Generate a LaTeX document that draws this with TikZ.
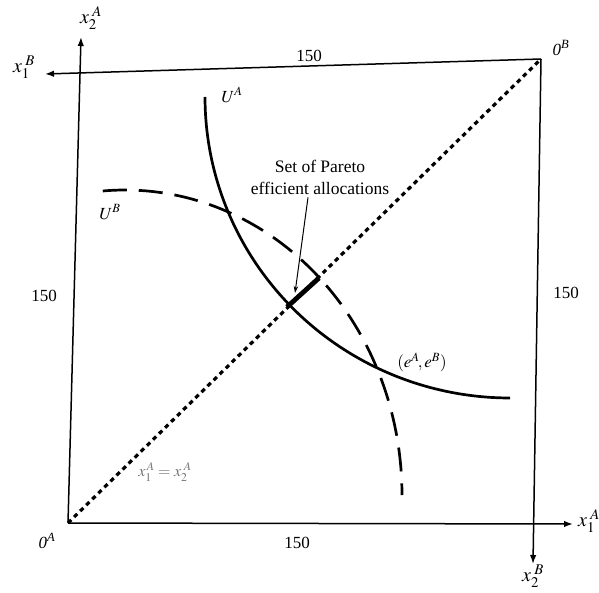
\documentclass[tikz,border=0pt]{standalone}
\usepackage{mathptmx}
\usepackage{fontspec}
\setmainfont{Liberation Serif}
\usetikzlibrary{arrows.meta}
\tikzset{
  axisline/.style={line width=1.5pt, -{Latex[length=9pt,width=6.5pt]}},
  lbl/.style={inner sep=0pt, font=\fontsize{17}{20}\selectfont},
  axlbl/.style={inner sep=0pt, font=\fontsize{20}{22}\selectfont},
  diagline/.style={line width=3.2pt, dash pattern=on 4.5pt off 4pt},
  ucurveA/.style={line width=2.7pt},
  ucurveB/.style={line width=2.7pt, dash pattern=on 24pt off 12pt},
  paretoseg/.style={line width=4.8pt},
  callout/.style={line width=1pt, -{Stealth[length=7pt,width=4.5pt]}}
}
\begin{document}
\begin{tikzpicture}[x=1pt,y=-1pt]
\useasboundingbox (0,0) rectangle (599,593);
% corners and axis ends
\coordinate (OA) at (68,523);
\coordinate (OB) at (541,59);
\coordinate (x2Aend) at (81,37);
\coordinate (x1Bend) at (45,74);
\coordinate (x1Aend) at (573,524);
\coordinate (x2Bend) at (533,564);
% box / axes
\draw[axisline] (OA) -- (x2Aend);
\draw[axisline] (OA) -- (x1Aend);
\draw[axisline] (OB) -- (x1Bend);
\draw[axisline] (OB) -- (x2Bend);
% diagonal
\draw[diagline] (OA) -- (OB);
% U^B dashed
\draw[ucurveB] plot[domain=94.6:0, samples=120, smooth] ({125+277*cos(\x)}, {495-305*sin(\x)});
% U^A solid
\draw[ucurveA] plot[domain=0:90, samples=120, smooth] ({510-305*cos(\x)}, {97+301*sin(\x)});
% Pareto set segment
\coordinate (P1) at (287,307);
\coordinate (P2) at (319,278);
\draw[paretoseg] (P1) -- (P2);
% labels
\node[axlbl] (lx2A) at (91,18) {$x_{2}^{\;A}$};
\node[axlbl] (lx1B) at (24,67) {$x_{1}^{\;B}$};
\node[axlbl] (lx1A) at (589,521) {$x_{1}^{\;A}$};
\node[axlbl] (lx2B) at (533,576) {$x_{2}^{\;B}$};
\node[lbl] (lOB) at (561,48) {\itshape 0\textsuperscript{\itshape B}};
\node[lbl] (lOA) at (47,541) {\itshape 0\textsuperscript{\itshape A}};
\node[lbl] (ltop) at (309,56) {150};
\node[lbl] (lbot) at (297,543) {150};
\node[lbl] (lleft) at (44,296) {150};
\node[lbl] (lright) at (566,293) {150};
\node[lbl] (lUA) at (232,95) {$U^{A}$};
\node[lbl] (lUB) at (110,212) {$U^{B}$};
\node[lbl, align=center, font=\fontsize{17.5}{22}\selectfont] (lpareto) at (320,177) {Set of Pareto\\efficient allocations};
\node[lbl] (leAeB) at (422,362) {$(e^{A}\!,e^{B})$};
\node[lbl, text=black!55, font=\fontsize{16}{18}\selectfont] (ldiag) at (165,472) {$x_{1}^{\,A}=x_{2}^{\;A}$};
% callout arrow
\draw[callout] (lpareto.south -| 308,0) ++(0,3) -- (295,293);
\end{tikzpicture}
\end{document}
